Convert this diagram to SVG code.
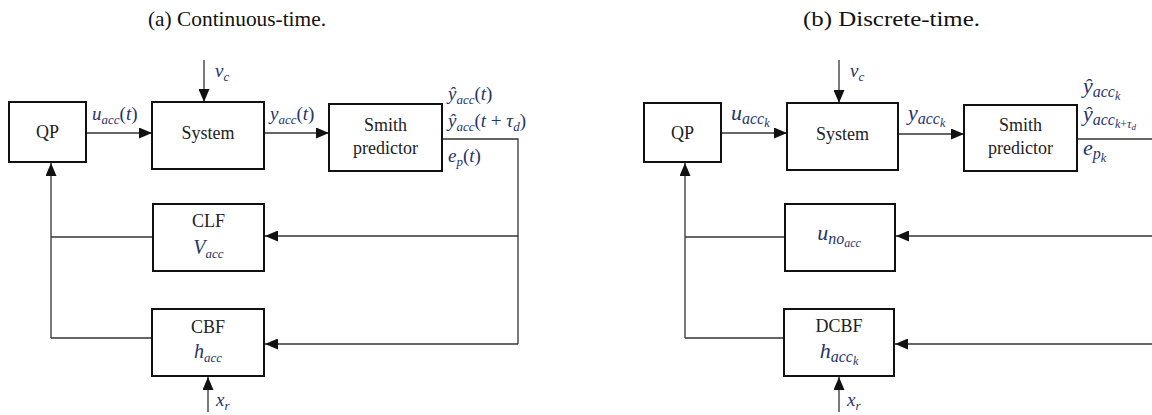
<svg xmlns="http://www.w3.org/2000/svg" width="1152" height="415" viewBox="0 0 1152 415">
  <defs>
    <marker id="arrow" markerUnits="userSpaceOnUse" markerWidth="13" markerHeight="11" refX="13" refY="5.5" orient="auto">
      <path d="M0,0 L13,5.5 L0,11 z" fill="#111"/>
    </marker>
    <style>
      .box { fill: #fff; stroke: #111; stroke-width: 2; }
      .wire { fill: none; stroke: #333; stroke-width: 1.3; }
      .arr { fill: none; stroke: #333; stroke-width: 1.3; marker-end: url(#arrow); }
      .title { font-family: "Liberation Serif", "DejaVu Serif", serif; font-size: 21px; fill: #111; }
      .lbl { font-family: "Liberation Serif", "DejaVu Serif", serif; font-size: 18px; fill: #222; text-anchor: middle; }
      .math { font-family: "Liberation Serif", "DejaVu Serif", serif; font-style: italic; font-size: 19px; fill: #26346a; }
      .mathc { font-family: "Liberation Serif", "DejaVu Serif", serif; font-style: italic; font-size: 20px; fill: #26346a; text-anchor: middle; }
      .up { font-style: normal; }
      .sub { font-size: 13px; }
      .big { font-size: 22px; }
      .s1 { font-size: 16px; }
      .s2 { font-size: 12px; }
      .s3 { font-size: 9px; }
    </style>
  </defs>

  <rect width="1152" height="415" fill="#fff"/>

  <!-- captions -->
  <text class="title" x="148" y="26" textLength="178" lengthAdjust="spacingAndGlyphs">(a) Continuous-time.</text>
  <text class="title" x="803" y="26" textLength="177" lengthAdjust="spacingAndGlyphs">(b) Discrete-time.</text>

  <!-- ===== continuous-time loop ===== -->
  <g id="connectors-a">
    <line class="arr" x1="204" y1="60" x2="204" y2="102"/>
    <line class="arr" x1="86" y1="133" x2="152" y2="133"/>
    <line class="arr" x1="264" y1="133" x2="329" y2="133"/>
    <polyline class="wire" points="442,139 518,139 518,344"/>
    <line class="arr" x1="518" y1="236" x2="265" y2="236"/>
    <line class="arr" x1="518" y1="344" x2="265" y2="344"/>
    <polyline class="wire" points="153,237 51,237"/>
    <polyline class="wire" points="152,338 51,338"/>
    <line class="arr" x1="51" y1="338" x2="51" y2="163"/>
    <line class="arr" x1="208" y1="412" x2="208" y2="377"/>
  </g>

  <g id="a-labels">
    <text class="math" x="215" y="77">v<tspan class="sub" dy="4">c</tspan></text>
    <text class="math" x="92" y="120">u<tspan class="sub" dy="4">acc</tspan><tspan class="up" dy="-4">(</tspan>t<tspan class="up">)</tspan></text>
    <text class="math" x="270" y="120">y<tspan class="sub" dy="4">acc</tspan><tspan class="up" dy="-4">(</tspan>t<tspan class="up">)</tspan></text>
    <text class="math" x="448" y="100">ŷ<tspan class="sub" dy="4">acc</tspan><tspan class="up" dy="-4">(</tspan>t<tspan class="up">)</tspan></text>
    <text class="math" x="448" y="127">ŷ<tspan class="sub" dy="4">acc</tspan><tspan class="up" dy="-4">(</tspan>t<tspan class="up"> + </tspan>τ<tspan class="sub" dy="4">d</tspan><tspan class="up" dy="-4">)</tspan></text>
    <text class="math" x="448" y="162">e<tspan class="sub" dy="4">p</tspan><tspan class="up" dy="-4">(</tspan>t<tspan class="up">)</tspan></text>
    <text class="math" x="216" y="406">x<tspan class="sub" dy="4">r</tspan></text>
  </g>

  <g id="qp-a">
    <rect class="box" x="9" y="102" width="77" height="60"/>
    <text class="lbl" x="47.5" y="138">QP</text>
  </g>
  <g id="system-a">
    <rect class="box" x="152" y="102" width="112" height="67"/>
    <text class="lbl" x="208" y="139">System</text>
  </g>
  <g id="smith-a">
    <rect class="box" x="329" y="104" width="113" height="67"/>
    <text class="lbl" x="385.5" y="131">Smith</text>
    <text class="lbl" x="385.5" y="154">predictor</text>
  </g>
  <g id="clf-a">
    <rect class="box" x="153" y="204" width="111" height="67"/>
    <text class="lbl" x="208.5" y="227">CLF</text>
    <text class="mathc" x="208.5" y="254">V<tspan class="sub" dy="4">acc</tspan></text>
  </g>
  <g id="cbf-a">
    <rect class="box" x="152" y="309" width="112" height="67"/>
    <text class="lbl" x="208" y="333">CBF</text>
    <text class="mathc" x="208" y="358">h<tspan class="sub" dy="4">acc</tspan></text>
  </g>

  <!-- ===== discrete-time loop ===== -->
  <g id="connectors-b">
    <line class="arr" x1="839" y1="60" x2="839" y2="103"/>
    <line class="arr" x1="721" y1="133" x2="787" y2="133"/>
    <line class="arr" x1="898" y1="134" x2="964" y2="134"/>
    <polyline class="wire" points="1077,139 1152,139"/>
    <line class="arr" x1="1152" y1="236" x2="896" y2="236"/>
    <line class="arr" x1="1152" y1="344" x2="895" y2="344"/>
    <polyline class="wire" points="785,237 685,237"/>
    <polyline class="wire" points="784,338 685,338"/>
    <line class="arr" x1="685" y1="338" x2="685" y2="163"/>
    <line class="arr" x1="839" y1="412" x2="839" y2="377"/>
  </g>

  <g id="b-labels">
    <text class="math" x="850" y="77">v<tspan class="sub" dy="4">c</tspan></text>
    <text class="math big" x="731" y="120">u<tspan class="s1" dy="4">acc</tspan><tspan class="s2" dy="3">k</tspan></text>
    <text class="math big" x="908" y="120">y<tspan class="s1" dy="4">acc</tspan><tspan class="s2" dy="3">k</tspan></text>
    <text class="math big" x="1083" y="93">ŷ<tspan class="s1" dy="4">acc</tspan><tspan class="s2" dy="3">k</tspan></text>
    <text class="math big" x="1083" y="121">ŷ<tspan class="s1" dy="4">acc</tspan><tspan class="s2" dy="3">k</tspan><tspan class="s2 up">+</tspan><tspan class="s2">τ</tspan><tspan class="s3" dy="2">d</tspan></text>
    <text class="math big" x="1083" y="155">e<tspan class="s1" dy="4">p</tspan><tspan class="s2" dy="3">k</tspan></text>
    <text class="math" x="847" y="406" font-size="20">x<tspan class="sub" dy="4">r</tspan></text>
  </g>

  <g id="qp-b">
    <rect class="box" x="644" y="103" width="77" height="59"/>
    <text class="lbl" x="682.5" y="139">QP</text>
  </g>
  <g id="system-b">
    <rect class="box" x="787" y="103" width="111" height="67"/>
    <text class="lbl" x="842.5" y="140">System</text>
  </g>
  <g id="smith-b">
    <rect class="box" x="964" y="105" width="113" height="66"/>
    <text class="lbl" x="1020.5" y="131">Smith</text>
    <text class="lbl" x="1020.5" y="154">predictor</text>
  </g>
  <g id="unoacc-b">
    <rect class="box" x="785" y="204" width="110" height="67"/>
    <text class="mathc big" x="839" y="240">u<tspan class="s1" dy="4">no</tspan><tspan class="s2" dy="3">acc</tspan></text>
  </g>
  <g id="dcbf-b">
    <rect class="box" x="784" y="309" width="110" height="67"/>
    <text class="lbl" x="839" y="332">DCBF</text>
    <text class="mathc big" x="839" y="358">h<tspan class="s1" dy="4">acc</tspan><tspan class="s2" dy="3">k</tspan></text>
  </g>
</svg>
